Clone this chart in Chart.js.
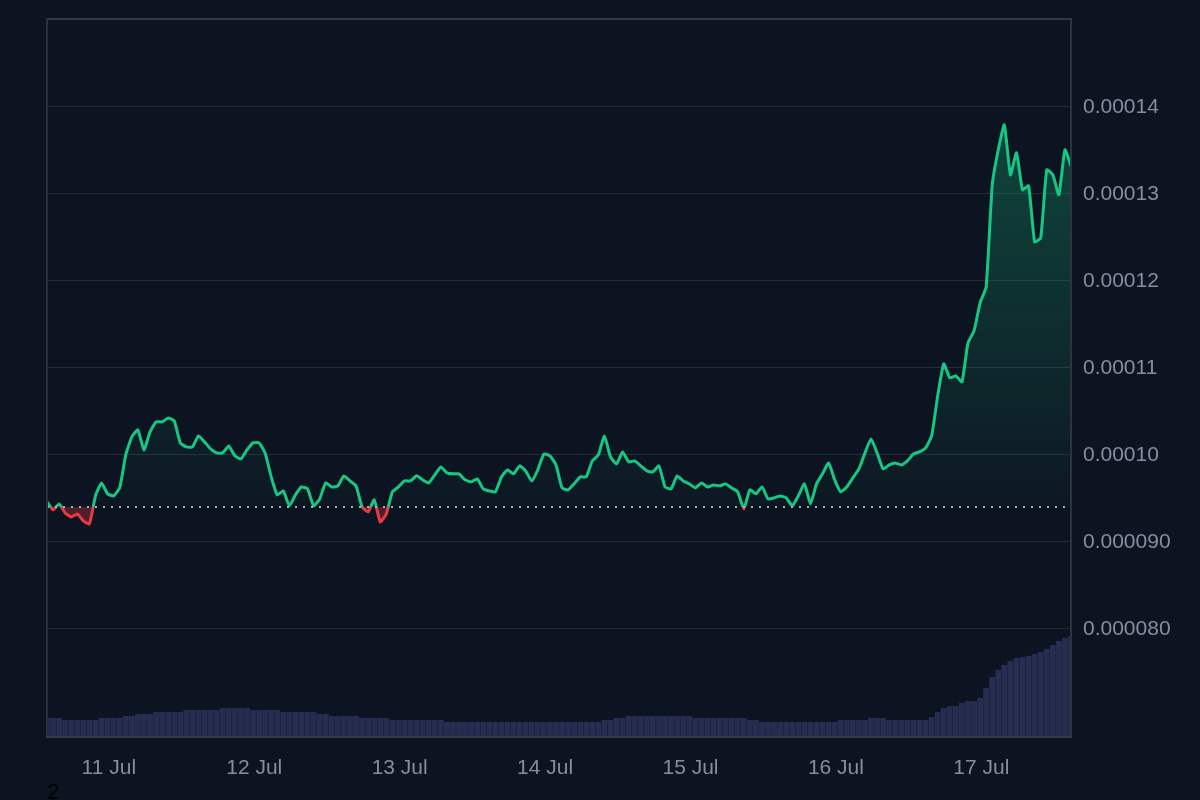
<!DOCTYPE html>
<html>
<head>
<meta charset="utf-8">
<script src="https://cdn.jsdelivr.net/npm/chart.js@4.4.1/dist/chart.umd.min.js"></script>
<style>
    html, body { margin: 0; padding: 0; background: #0d1421; }
    #wrap { position: relative; width: 1200px; height: 800px; overflow: hidden; }
    #pageNum { position: absolute; left: 47px; top: 781px; font: 22px/22px "Liberation Sans", Arial, sans-serif; color: #000; }
</style>
</head>
<body>
<div id="wrap">
    <canvas id="priceChart" width="1200" height="800"></canvas>
    <div id="pageNum">2</div>
</div>
<script>
// Hourly samples, hours counted from 11 Jul 00:00
const startHour = -10.2;
const dayTicks = [0, 24, 48, 72, 96, 120, 144];
const dayLabels = ['11 Jul', '12 Jul', '13 Jul', '14 Jul', '15 Jul', '16 Jul', '17 Jul'];
const priceTicks = [0.00008, 0.00009, 0.00010, 0.00011, 0.00012, 0.00013, 0.00014];
const basePrice = 9.40e-5;

const prices = [
    9.460e-5, 9.368e-5, 9.437e-5, 9.333e-5, 9.287e-5, 9.322e-5, 9.241e-5, 9.207e-5, 9.529e-5, 9.678e-5,
    9.552e-5, 9.529e-5, 9.621e-5, 10.000e-5, 10.207e-5, 10.287e-5, 10.057e-5, 10.264e-5, 10.379e-5, 10.379e-5,
    10.425e-5, 10.391e-5, 10.138e-5, 10.092e-5, 10.092e-5, 10.218e-5, 10.149e-5, 10.069e-5, 10.023e-5, 10.023e-5,
    10.103e-5, 9.989e-5, 9.954e-5, 10.057e-5, 10.138e-5, 10.138e-5, 10.023e-5, 9.747e-5, 9.540e-5, 9.586e-5,
    9.414e-5, 9.540e-5, 9.632e-5, 9.609e-5, 9.414e-5, 9.494e-5, 9.678e-5, 9.632e-5, 9.644e-5, 9.759e-5,
    9.701e-5, 9.644e-5, 9.402e-5, 9.345e-5, 9.483e-5, 9.230e-5, 9.322e-5, 9.575e-5, 9.632e-5, 9.701e-5,
    9.701e-5, 9.759e-5, 9.713e-5, 9.678e-5, 9.770e-5, 9.862e-5, 9.793e-5, 9.782e-5, 9.782e-5, 9.713e-5,
    9.690e-5, 9.724e-5, 9.609e-5, 9.586e-5, 9.575e-5, 9.747e-5, 9.828e-5, 9.782e-5, 9.874e-5, 9.816e-5,
    9.701e-5, 9.828e-5, 10.011e-5, 9.989e-5, 9.885e-5, 9.621e-5, 9.598e-5, 9.667e-5, 9.747e-5, 9.747e-5,
    9.931e-5, 10.000e-5, 10.218e-5, 9.977e-5, 9.897e-5, 10.034e-5, 9.920e-5, 9.931e-5, 9.874e-5, 9.816e-5,
    9.805e-5, 9.874e-5, 9.632e-5, 9.609e-5, 9.759e-5, 9.701e-5, 9.667e-5, 9.621e-5, 9.678e-5, 9.632e-5,
    9.655e-5, 9.644e-5, 9.667e-5, 9.621e-5, 9.575e-5, 9.379e-5, 9.598e-5, 9.552e-5, 9.632e-5, 9.494e-5,
    9.506e-5, 9.529e-5, 9.506e-5, 9.414e-5, 9.529e-5, 9.667e-5, 9.437e-5, 9.667e-5, 9.782e-5, 9.908e-5,
    9.713e-5, 9.575e-5, 9.632e-5, 9.736e-5, 9.839e-5, 10.023e-5, 10.184e-5, 10.023e-5, 9.839e-5, 9.885e-5,
    9.908e-5, 9.885e-5, 9.931e-5, 10.011e-5, 10.034e-5, 10.080e-5, 10.218e-5, 10.678e-5, 11.046e-5, 10.885e-5,
    10.908e-5, 10.839e-5, 11.287e-5, 11.425e-5, 11.747e-5, 11.931e-5, 13.103e-5, 13.506e-5, 13.793e-5, 13.218e-5,
    13.471e-5, 13.046e-5, 13.092e-5, 12.448e-5, 12.494e-5, 13.276e-5, 13.218e-5, 12.989e-5, 13.506e-5, 13.322e-5
];

// 24h volume (M)
const volumes = [
    1.8, 1.8, 1.8, 1.6, 1.6, 1.6, 1.6, 1.6, 1.6, 1.8,
    1.8, 1.8, 1.8, 2.0, 2.0, 2.2, 2.2, 2.2, 2.4, 2.4,
    2.4, 2.4, 2.4, 2.6, 2.6, 2.6, 2.6, 2.6, 2.6, 2.8,
    2.8, 2.8, 2.8, 2.8, 2.6, 2.6, 2.6, 2.6, 2.6, 2.4,
    2.4, 2.4, 2.4, 2.4, 2.4, 2.2, 2.2, 2.0, 2.0, 2.0,
    2.0, 2.0, 1.8, 1.8, 1.8, 1.8, 1.8, 1.6, 1.6, 1.6,
    1.6, 1.6, 1.6, 1.6, 1.6, 1.6, 1.4, 1.4, 1.4, 1.4,
    1.4, 1.4, 1.4, 1.4, 1.4, 1.4, 1.4, 1.4, 1.4, 1.4,
    1.4, 1.4, 1.4, 1.4, 1.4, 1.4, 1.4, 1.4, 1.4, 1.4,
    1.4, 1.4, 1.6, 1.6, 1.8, 1.8, 2.0, 2.0, 2.0, 2.0,
    2.0, 2.0, 2.0, 2.0, 2.0, 2.0, 2.0, 1.8, 1.8, 1.8,
    1.8, 1.8, 1.8, 1.8, 1.8, 1.8, 1.6, 1.6, 1.4, 1.4,
    1.4, 1.4, 1.4, 1.4, 1.4, 1.4, 1.4, 1.4, 1.4, 1.4,
    1.4, 1.6, 1.6, 1.6, 1.6, 1.6, 1.8, 1.8, 1.8, 1.6,
    1.6, 1.6, 1.6, 1.6, 1.6, 1.6, 1.9, 2.4, 2.8, 3.0,
    3.0, 3.3, 3.5, 3.5, 3.8, 4.8, 5.9, 6.6, 7.1, 7.5,
    7.8, 7.9, 8.0, 8.2, 8.4, 8.7, 9.1, 9.5, 9.8, 10.0
];

const GREEN = '#16c784';
const RED = '#ea3943';
const TICK_COLOR = '#878d9d';
const TICK_FONT = { family: '"Liberation Sans", Arial, sans-serif', size: 21 };

const endHour = startHour + prices.length - 1;
const pricePoints = prices.map((p, i) => ({ x: startHour + i, y: p }));
const volumePoints = volumes.map((v, i) => ({ x: startHour + i, y: v }));

// vertical gradient split at the base price
function splitGradient(chart, stops) {
    const area = chart.chartArea;
    const yBase = chart.scales.y.getPixelForValue(basePrice);
    const f = Math.min(1, Math.max(0, (yBase - area.top) / (area.bottom - area.top)));
    const g = chart.ctx.createLinearGradient(0, area.top, 0, area.bottom);
    g.addColorStop(0, stops[0]);
    g.addColorStop(f, stops[1]);
    g.addColorStop(f, stops[2]);
    g.addColorStop(1, stops[3]);
    return g;
}

function noEdgePadding(axis) {
    axis.paddingTop = 0;
    axis.paddingBottom = 0;
    axis.paddingLeft = 0;
    axis.paddingRight = 0;
}

const framePlugin = {
    id: 'frame',
    afterDatasetsDraw(chart) {
        const { ctx, chartArea: a } = chart;
        ctx.save();
        ctx.fillStyle = '#343a45';
        ctx.fillRect(a.left, a.top, a.right - a.left, 2);
        ctx.fillStyle = '#2a2f3a';
        ctx.fillRect(a.left - 1, a.top, 2, a.bottom - a.top);
        ctx.fillStyle = '#2e333e';
        ctx.fillRect(a.right - 1, a.top, 2, a.bottom - a.top + 2);
        ctx.fillStyle = '#363b46';
        ctx.fillRect(a.left - 1, a.bottom, a.right - a.left + 1, 2);
        ctx.restore();
    }
};

const ctx = document.getElementById('priceChart').getContext('2d');
const priceChart = new Chart(ctx, {
    type: 'line',
    data: {
        datasets: [{
            type: 'line',
            label: 'Base',
            data: [{ x: startHour, y: basePrice }, { x: endHour, y: basePrice }],
            borderColor: '#a9adb5',
            borderWidth: 2,
            borderDash: [2, 6],
            pointRadius: 0,
            fill: false,
            order: 1
        }, {
            type: 'line',
            label: 'Price',
            data: pricePoints,
            borderWidth: 3,
            borderJoinStyle: 'round',
            borderCapStyle: 'round',
            pointRadius: 0,
            tension: 0.15,
            fill: { value: basePrice },
            borderColor: (context) => {
                if (!context.chart.chartArea) return GREEN;
                return splitGradient(context.chart, [GREEN, GREEN, RED, RED]);
            },
            backgroundColor: (context) => {
                if (!context.chart.chartArea) return 'rgba(22, 199, 132, 0.1)';
                return splitGradient(context.chart, [
                    'rgba(22, 199, 132, 0.35)',
                    'rgba(22, 199, 132, 0.02)',
                    'rgba(234, 57, 67, 0.3)',
                    'rgba(234, 57, 67, 0.3)'
                ]);
            },
            order: 2
        }, {
            type: 'bar',
            label: 'Volume',
            data: volumePoints,
            yAxisID: 'vol',
            backgroundColor: '#262d50',
            borderWidth: 0,
            barPercentage: 0.96,
            categoryPercentage: 1,
            order: 3
        }]
    },
    options: {
        responsive: false,
        animation: false,
        devicePixelRatio: 1,
        layout: { padding: { left: 47, top: 18, right: 0, bottom: 0 } },
        plugins: {
            legend: { display: false },
            tooltip: { enabled: false }
        },
        scales: {
            x: {
                type: 'linear',
                offset: false,
                min: startHour,
                max: endHour,
                afterBuildTicks: (axis) => { axis.ticks = dayTicks.map(v => ({ value: v })); },
                afterFit: (axis) => { axis.height = 64; noEdgePadding(axis); },
                grid: { display: false, drawTicks: false, offset: false },
                border: { display: false },
                ticks: {
                    color: TICK_COLOR,
                    font: TICK_FONT,
                    padding: 20,
                    maxRotation: 0,
                    autoSkip: false,
                    callback: (value, index) => dayLabels[index]
                }
            },
            y: {
                position: 'right',
                min: 0.0000677,
                max: 0.0001502,
                afterBuildTicks: (axis) => { axis.ticks = priceTicks.map(v => ({ value: v })); },
                afterFit: (axis) => { axis.width = 129; noEdgePadding(axis); },
                grid: { color: '#262c38', drawTicks: false },
                border: { display: false },
                ticks: {
                    color: TICK_COLOR,
                    font: TICK_FONT,
                    padding: 12,
                    callback: (value) => Number(value).toPrecision(2)
                }
            },
            vol: {
                type: 'linear',
                display: false,
                min: 0,
                max: 71.8
            }
        }
    },
    plugins: [framePlugin]
});
</script>
</body>
</html>
